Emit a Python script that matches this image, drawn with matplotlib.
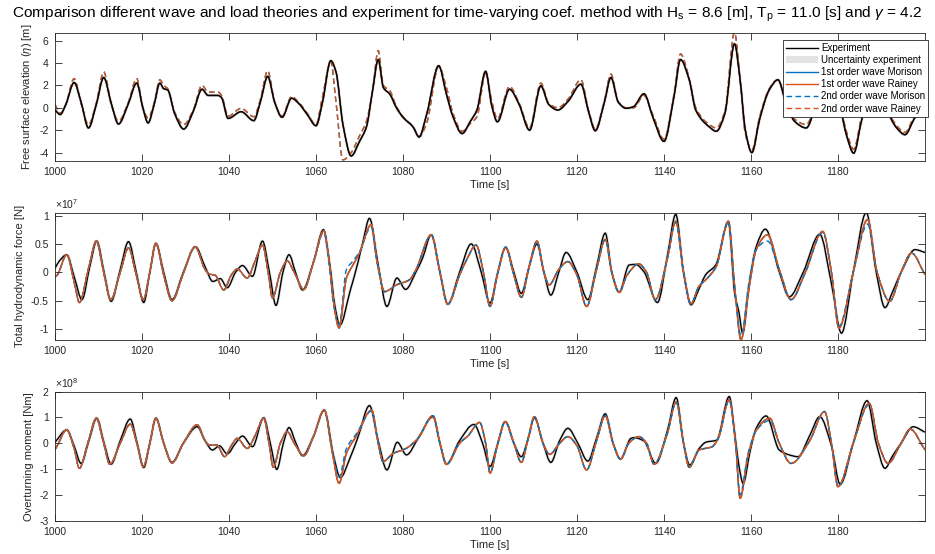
import numpy as np
import matplotlib.pyplot as plt
from matplotlib.patches import Patch, PathPatch
from matplotlib.path import Path
from matplotlib.ticker import FuncFormatter

plt.rcParams["font.family"] = ["Liberation Sans", "DejaVu Sans"]
plt.rcParams["mathtext.fontset"] = "custom"
plt.rcParams["mathtext.rm"] = "Liberation Sans"
plt.rcParams["mathtext.it"] = "Liberation Sans:italic"
plt.rcParams["axes.unicode_minus"] = False

# ---- free surface elevation [m] ----
eta_t = [1000, 1001.2, 1002.5, 1004.4, 1006, 1007.7, 1009.5, 1011.2, 1013, 1014.6,
         1016.8, 1018.8, 1020.2, 1021.4, 1022.8, 1024.1, 1025, 1025.9, 1027.5, 1029.6,
         1031.8, 1033.8, 1035.2, 1037.5, 1038.3, 1039.8, 1042.8, 1045.7, 1047.2, 1048.9,
         1050.5, 1052.2, 1054.4, 1056, 1058, 1060, 1061.5, 1063.4, 1064.6, 1066.2,
         1068.1, 1070, 1071.6, 1073, 1074.3, 1075.5, 1077, 1078.5, 1080, 1082.3,
         1083.7, 1085.5, 1088.2, 1090, 1091.5, 1093.6, 1095.5, 1097, 1099, 1100.4,
         1101.7, 1104.5, 1106.7, 1109.1, 1111.7, 1113.5, 1115.6, 1118, 1120.9, 1122.7,
         1124.2, 1126.3, 1127.8, 1129.5, 1131.3, 1133, 1135.4, 1137.5, 1140, 1142.3,
         1143.8, 1145.8, 1147.3, 1150.4, 1152, 1154, 1156.2, 1157.5, 1158.7, 1160.2,
         1162, 1164.2, 1166.2, 1168, 1170, 1172.7, 1175, 1177.8, 1180.5, 1182,
         1183.6, 1185.5, 1188.5, 1191, 1193.5, 1195.4, 1197.5, 1200]
eta_exp = [-0.2, -0.6, 0.3, 2.25, 0.5, -1.8, 0.3, 2.7, 0.3, -1.45,
           0.3, 2.2, 0.0, -1.35, 0.3, 2.2, 1.7, 1.6, -0.5, -1.9,
           -0.3, 1.65, 1.1, 1.1, 0.9, -0.95, -0.35, -1.15, 0.5, 2.8,
           0.5, -0.85, 0.85, 0.4, -0.6, -1.6, 0.5, 4.2, 3.2, -1.5,
           -4.3, -3.0, -1.7, 1.5, 4.3, 1.8, 1.2, 0.0, -0.85, -1.7,
           -2.6, -0.5, 3.75, 1.2, -0.8, -2.3, -1.2, -0.2, 3.25, 0.2,
           -1.25, 1.65, 0.3, -2.0, 1.95, 0.3, -0.2, 0.6, 2.1, -0.4,
           -2.05, 0.5, 2.7, 0.5, -0.05, 0.1, 1.25, -0.9, -3.0, 1.0,
           4.3, 2.5, -0.2, -1.7, -2.1, -0.5, 5.7, 2.5, -2.0, -4.0,
           -1.0, 1.6, 2.5, 0.5, -1.2, -1.8, 0.3, 2.8, 0.0, -2.5,
           -4.05, -1.0, 2.5, 0.0, -1.8, -2.4, -1.0, 0.45]
eta_1st = eta_exp  # 1st order wave is built from the measured elevation
eta_2nd = [0.3, -0.5, 0.3, 2.6, 0.4, -1.5, 0.4, 3.2, 0.2, -1.2,
           0.4, 2.6, 0.0, -0.9, 0.4, 2.5, 2.0, 1.7, -0.4, -1.5,
           -0.2, 2.0, 1.4, 1.4, 1.1, -0.75, -0.05, -0.8, 0.7, 3.3,
           0.5, -0.75, 1.0, 0.5, -0.5, -1.5, 1.0, 4.1, 0.5, -4.65,
           -4.0, -2.5, -1.2, 1.5, 5.1, 2.0, 1.5, 0.1, -0.8, -1.7,
           -2.6, -1.3, 3.7, 1.8, -0.5, -2.1, -1.4, -0.8, 3.1, 0.6,
           -1.0, 1.9, 0.4, -1.8, 2.2, 0.4, 0.0, 0.8, 2.5, -0.3,
           -1.9, 0.6, 3.0, 0.5, 0.0, 0.0, 1.1, -0.7, -2.8, 1.2,
           4.8, 2.6, 0.0, -1.5, -1.8, -0.3, 6.7, 2.5, -2.3, -3.8,
           -0.8, 1.7, 2.5, 0.5, -1.0, -1.5, 0.5, 3.2, 0.2, -2.2,
           -3.7, -0.7, 2.8, 0.1, -1.6, -2.2, -0.8, 0.6]

# ---- total hydrodynamic force [1e7 N] ----
f_exp_t = [1000, 1001, 1002.7, 1004.5, 1006.2, 1008, 1009.6, 1011.3, 1012.9, 1015,
           1016.9, 1018.7, 1020.4, 1021.8, 1023.2, 1025, 1026.9, 1029.5, 1032.3, 1034.5,
           1036.3, 1038, 1039.6, 1041.5, 1043.1, 1045.4, 1047.7, 1049.3, 1050.8, 1052.4,
           1053.8, 1055.3, 1056.9, 1059.5, 1061.7, 1063.2, 1064.3, 1065.5, 1067.8, 1069.7,
           1070.8, 1072.3, 1074.3, 1076.3, 1078.6, 1080.6, 1083, 1084.5, 1086.5, 1088.5,
           1090.3, 1093, 1095.7, 1098, 1100, 1101.8, 1103.6, 1105.5, 1107.2, 1109,
           1110.8, 1112.4, 1114, 1115.8, 1117.5, 1120, 1122.5, 1124.5, 1126.5, 1128,
           1129.7, 1132, 1133.5, 1135.4, 1138.5, 1140.8, 1142.7, 1144.5, 1146.2, 1148,
           1149.6, 1151.9, 1154.8, 1156.3, 1157.2, 1158.1, 1159.6, 1161.2, 1163.3, 1166.5,
           1168.8, 1172, 1175.8, 1178.5, 1180.8, 1183.5, 1186.5, 1188.8, 1190.8, 1192.5,
           1194.5, 1197.7, 1200]
f_exp = [0.07, 0.2, 0.31, -0.1, -0.48, 0.1, 0.55, 0.0, -0.51, 0.05,
         0.54, 0.0, -0.53, 0.0, 0.51, 0.0, -0.48, 0.0, 0.45, 0.1,
         -0.16, -0.11, -0.27, 0.0, 0.12, -0.07, 0.55, 0.0, -0.58, 0.0,
         0.31, 0.0, -0.31, 0.2, 0.75, 0.13, -0.57, -0.93, -0.34, 0.19,
         0.54, 0.95, 0.13, -0.6, -0.1, -0.3, 0.01, 0.25, 0.66, 0.0,
         -0.56, 0.0, 0.5, 0.0, -0.54, 0.0, 0.44, 0.0, -0.37, 0.1,
         0.5, 0.0, -0.4, 0.0, 0.35, 0.0, -0.48, 0.1, 0.69, 0.0,
         -0.35, 0.13, 0.14, 0.01, -0.53, 0.3, 1.02, 0.0, -0.57, -0.3,
         -0.04, 0.13, 0.88, -0.4, -0.69, -1.07, -0.2, 0.45, 0.76, 0.01,
         -0.43, 0.0, 0.67, -0.2, -1.07, 0.0, 1.05, 0.0, -0.62, -0.35,
         0.0, 0.4, 0.35]
f_mod_t = [1000, 1000.5, 1002.7, 1004.5, 1005.6, 1007.8, 1009.5, 1011.2, 1012.8, 1015,
           1016.9, 1018.7, 1020.3, 1021.8, 1023.2, 1025, 1026.9, 1029.5, 1032.2, 1034.5,
           1035.5, 1036.8, 1038.8, 1040.5, 1041.9, 1044.2, 1046, 1047.7, 1049, 1050,
           1051.8, 1053.4, 1055, 1057.2, 1059.5, 1061.8, 1063, 1064, 1065.3, 1067,
           1068.5, 1070, 1072.7, 1074, 1075.8, 1077, 1078.5, 1081.5, 1083, 1086.5,
           1088.5, 1090.3, 1093, 1094.5, 1096.8, 1098.5, 1100, 1101.8, 1103.6, 1105.5,
           1107.2, 1109, 1110.8, 1112.4, 1113.6, 1115.8, 1117.9, 1120, 1122.2, 1124.5,
           1126.5, 1128, 1129.7, 1131.5, 1134.2, 1136, 1138, 1140.8, 1142.7, 1144.5,
           1146.2, 1148, 1150, 1152, 1154.8, 1156.3, 1157.7, 1159.5, 1161.2, 1163.8,
           1166.5, 1169.2, 1172.5, 1176.5, 1178.5, 1180.2, 1183.5, 1186.8, 1189, 1191.9,
           1194.5, 1196.9, 1200]
f_1st = [-0.08, -0.05, 0.31, -0.2, -0.53, 0.1, 0.55, 0.0, -0.48, 0.0,
         0.43, -0.05, -0.48, 0.0, 0.51, -0.05, -0.5, -0.02, 0.45, 0.05,
         -0.03, -0.05, -0.31, -0.05, 0.06, -0.1, 0.2, 0.48, 0.0, -0.45,
         0.0, 0.2, 0.0, -0.3, 0.2, 0.73, 0.2, -0.5, -0.98, -0.1,
         0.13, 0.34, 0.84, 0.2, -0.34, -0.3, -0.22, -0.13, 0.05, 0.66,
         0.0, -0.56, -0.05, 0.2, 0.48, 0.0, -0.6, 0.0, 0.44, -0.05,
         -0.44, 0.1, 0.55, 0.0, -0.22, 0.05, 0.19, -0.05, -0.6, 0.05,
         0.58, 0.0, -0.35, -0.05, 0.15, 0.0, -0.48, 0.25, 0.9, 0.0,
         -0.55, -0.25, -0.1, 0.1, 0.9, -0.3, -1.19, -0.3, 0.4, 0.66,
         0.05, -0.48, 0.0, 0.72, 0.0, -0.98, 0.0, 0.93, 0.0, -0.51,
         0.0, 0.34, -0.04]
f_2nd = [-0.08, -0.05, 0.31, -0.2, -0.53, 0.1, 0.55, 0.0, -0.48, 0.0,
         0.43, -0.05, -0.48, 0.0, 0.51, -0.05, -0.5, -0.02, 0.45, 0.05,
         -0.03, -0.05, -0.31, -0.05, 0.06, -0.1, 0.2, 0.48, 0.0, -0.45,
         0.0, 0.2, 0.0, -0.3, 0.2, 0.71, 0.15, -0.55, -0.92, 0.05,
         0.2, 0.36, 0.8, 0.2, -0.34, -0.3, -0.22, -0.13, 0.05, 0.66,
         0.0, -0.56, -0.05, 0.2, 0.48, 0.0, -0.6, 0.0, 0.44, -0.05,
         -0.44, 0.1, 0.55, 0.0, -0.22, 0.05, 0.19, -0.05, -0.6, 0.05,
         0.58, 0.0, -0.35, -0.05, 0.15, 0.0, -0.48, 0.25, 0.88, 0.0,
         -0.55, -0.25, -0.1, 0.1, 0.9, -0.3, -1.12, -0.2, 0.4, 0.55,
         0.05, -0.48, 0.0, 0.7, 0.0, -0.95, 0.0, 0.85, 0.0, -0.51,
         0.0, 0.34, -0.04]

# ---- overturning moment [1e8 Nm] ----
m_exp_t = [1000, 1002.7, 1004.4, 1006, 1007.8, 1009.6, 1011.3, 1012.9, 1015, 1017.3,
           1018.9, 1020.4, 1021.8, 1023.2, 1025, 1026.9, 1029.5, 1032.7, 1034.5, 1036.2,
           1037.8, 1039.6, 1041.5, 1043.1, 1045.4, 1048, 1049.5, 1051, 1052.5, 1053.8,
           1055.4, 1056.9, 1059.5, 1061.9, 1064, 1065.6, 1067.8, 1069.7, 1072.3, 1074.3,
           1076.3, 1078.7, 1080.8, 1083.5, 1086.9, 1088.5, 1090, 1093, 1096.3, 1098.3,
           1100, 1101.8, 1103.5, 1105.5, 1107.2, 1108.8, 1110.2, 1112.2, 1114, 1116,
           1117.9, 1120.2, 1122.5, 1124.5, 1126.5, 1128.3, 1130, 1132.4, 1133.1, 1135.4,
           1138.1, 1140.8, 1142.8, 1144.5, 1145.9, 1148.1, 1149.6, 1152.1, 1155, 1156.4,
           1157.2, 1158.2, 1159.8, 1161.2, 1163.5, 1166.5, 1168.8, 1170.8, 1173.5, 1175.8,
           1178.5, 1180.5, 1183.5, 1186.7, 1188.8, 1190.8, 1192.5, 1194.5, 1197.3, 1200]
m_exp = [0.04, 0.52, -0.1, -0.78, 0.1, 0.97, 0.0, -0.81, 0.1, 0.94,
         0.0, -0.94, 0.0, 0.97, 0.0, -0.74, 0.0, 0.64, 0.1, -0.26,
         -0.1, -0.41, 0.0, 0.28, -0.13, 0.99, 0.0, -1.01, 0.0, 0.61,
         0.0, -0.48, 0.3, 1.29, -0.45, -1.33, -0.58, 0.26, 1.46, 0.1,
         -1.03, 0.04, -0.45, 0.2, 1.03, 0.0, -0.81, 0.1, 0.73, 0.0,
         -0.9, 0.0, 0.84, 0.0, -0.52, 0.2, 0.99, 0.0, -0.74, 0.1,
         0.58, 0.0, -0.69, 0.2, 1.14, 0.0, -0.61, 0.19, 0.22, 0.09,
         -0.78, 0.5, 1.77, 0.0, -0.84, -0.2, 0.04, 0.12, 1.81, 0.19,
         -0.84, -1.55, -0.3, 0.58, 1.06, -0.26, -0.45, -0.52, 0.3, 1.03,
         -0.1, -1.59, 0.0, 1.65, 0.0, -0.97, -0.5, 0.0, 0.64, 0.43]
m_mod_t = [1000, 1000.5, 1002.7, 1004.4, 1005.6, 1007.7, 1009.5, 1011.2, 1012.6, 1015,
           1017.3, 1018.9, 1020.3, 1021.8, 1023.2, 1025, 1026.9, 1029.5, 1032.7, 1034.5,
           1035.5, 1037.2, 1039, 1040.5, 1041.9, 1044.2, 1046, 1048, 1049.2, 1050.2,
           1051.8, 1053.4, 1055, 1057.2, 1059.5, 1061.9, 1063.8, 1065.3, 1067, 1069.4,
           1072.8, 1074.3, 1075.4, 1077.7, 1080.7, 1083.5, 1086.9, 1088.5, 1090, 1093,
           1095, 1097.6, 1099, 1100, 1101.8, 1103.5, 1105.5, 1107.2, 1108.8, 1110.2,
           1112.2, 1113.7, 1116, 1117.9, 1120, 1122.2, 1124.5, 1126.5, 1128.3, 1130,
           1131.9, 1134.2, 1136, 1137.7, 1140.8, 1142.8, 1144.5, 1145.8, 1148.1, 1151.1,
           1152.5, 1155, 1156.4, 1157.5, 1159.3, 1161.2, 1164.3, 1166.5, 1169.2, 1173.5,
           1176.9, 1178.5, 1180, 1183.5, 1187.2, 1189.3, 1191.5, 1194.5, 1196.6, 1200]
m_1st = [-0.25, -0.1, 0.52, -0.2, -0.97, 0.1, 0.97, 0.0, -0.81, 0.0,
         0.74, -0.05, -0.9, 0.0, 0.97, 0.0, -0.76, 0.0, 0.72, 0.1,
         -0.07, -0.07, -0.52, -0.1, 0.19, -0.2, 0.3, 0.97, 0.0, -0.93,
         0.0, 0.45, 0.0, -0.48, 0.3, 1.29, -0.4, -1.55, -0.39, 0.32,
         1.29, 0.0, -0.71, -0.4, -0.2, 0.2, 1.07, 0.0, -0.81, 0.0,
         0.3, 0.81, 0.0, -1.15, 0.0, 0.84, 0.0, -0.74, 0.2, 1.03,
         0.0, -0.43, 0.0, 0.26, -0.1, -1.03, 0.1, 1.07, 0.0, -0.61,
         0.0, 0.26, 0.0, -0.81, 0.4, 1.6, 0.0, -0.93, -0.26, -0.13,
         0.2, 1.68, 0.1, -2.13, -0.5, 0.5, 0.97, 0.0, -0.78, 0.1,
         1.23, 0.0, -1.68, 0.0, 1.55, 0.0, -0.78, 0.0, 0.55, -0.26]
m_2nd = [-0.25, -0.1, 0.52, -0.2, -0.97, 0.1, 0.97, 0.0, -0.81, 0.0,
         0.74, -0.05, -0.9, 0.0, 0.97, 0.0, -0.76, 0.0, 0.72, 0.1,
         -0.07, -0.07, -0.52, -0.1, 0.19, -0.2, 0.3, 0.97, 0.0, -0.93,
         0.0, 0.45, 0.0, -0.48, 0.3, 1.27, -0.3, -1.3, -0.2, 0.4,
         1.25, 0.0, -0.71, -0.4, -0.2, 0.2, 1.07, 0.0, -0.81, 0.0,
         0.3, 0.81, 0.0, -1.15, 0.0, 0.84, 0.0, -0.74, 0.2, 1.03,
         0.0, -0.43, 0.0, 0.26, -0.1, -1.03, 0.1, 1.07, 0.0, -0.61,
         0.0, 0.26, 0.0, -0.81, 0.4, 1.6, 0.0, -0.93, -0.26, -0.13,
         0.2, 1.68, 0.1, -2.0, -0.4, 0.5, 0.88, 0.0, -0.78, 0.1,
         1.23, 0.0, -1.68, 0.0, 1.5, 0.0, -0.78, 0.0, 0.55, -0.26]

BLUE = "#0072BD"
ORANGE = "#D95319"
GREY = "#e3e3e3"
DARK = "#262626"
DASH = (0, (4, 2.5))
LW = 1.0


def curve(ax, t, y, scale=1.0, **kw):
    # draw the read points as a smooth (monotone cubic bezier) line
    t = np.asarray(t, float)
    y = np.asarray(y, float) * scale
    h = np.diff(t)
    d = np.diff(y) / h
    m = np.zeros_like(y)
    m[0], m[-1] = d[0], d[-1]
    for i in range(1, len(y) - 1):
        if d[i - 1] * d[i] > 0:
            w1, w2 = 2 * h[i] + h[i - 1], h[i] + 2 * h[i - 1]
            m[i] = (w1 + w2) / (w1 / d[i - 1] + w2 / d[i])
    verts = [(t[0], y[0])]
    for i in range(len(t) - 1):
        verts += [(t[i] + h[i] / 3, y[i] + m[i] * h[i] / 3),
                  (t[i + 1] - h[i] / 3, y[i + 1] - m[i + 1] * h[i] / 3),
                  (t[i + 1], y[i + 1])]
    codes = [Path.MOVETO] + [Path.CURVE4] * (len(verts) - 1)
    ax.add_patch(PathPatch(Path(verts, codes), fill=False, capstyle="butt", **kw))


def style(ax):
    ax.set_xlim(1000, 1200)
    ax.set_xticks(np.arange(1000, 1181, 20))
    ax.tick_params(direction="in", length=5, width=0.6, top=True, right=True,
                   labelsize=7.5, colors=DARK, pad=4.5)
    for s in ax.spines.values():
        s.set_color(DARK)
        s.set_linewidth(0.6)
    ax.set_xlabel("Time [s]", fontsize=8, color=DARK, labelpad=2)


fig = plt.figure(figsize=(9.35, 5.54), dpi=100)
ax1 = fig.add_axes([0.0588, 0.7094, 0.9305, 0.2316])
ax2 = fig.add_axes([0.0588, 0.3863, 0.9305, 0.2298])
ax3 = fig.add_axes([0.0588, 0.0601, 0.9305, 0.2329])

# top: free surface elevation
curve(ax1, eta_t, eta_exp, edgecolor=GREY, lw=2.2)
curve(ax1, eta_t, eta_1st, edgecolor=BLUE, lw=LW)
curve(ax1, eta_t, eta_1st, edgecolor=ORANGE, lw=LW)
curve(ax1, eta_t, eta_2nd, edgecolor=BLUE, lw=LW, ls=DASH)
curve(ax1, eta_t, eta_2nd, edgecolor=ORANGE, lw=LW, ls=DASH)
curve(ax1, eta_t, eta_exp, edgecolor="black", lw=LW, zorder=5)
ax1.set_ylim(-4.75, 6.7)
ax1.set_yticks([-4, -2, 0, 2, 4, 6])
ax1.set_ylabel(r"Free surface elevation ($\eta$) [m]", fontsize=8, color=DARK)
style(ax1)

handles = [
    plt.Line2D([], [], color="black", lw=LW),
    Patch(facecolor=GREY, edgecolor="none"),
    plt.Line2D([], [], color=BLUE, lw=LW),
    plt.Line2D([], [], color=ORANGE, lw=LW),
    plt.Line2D([], [], color=BLUE, lw=LW, ls=DASH),
    plt.Line2D([], [], color=ORANGE, lw=LW, ls=DASH),
]
labels = ["Experiment", "Uncertainty experiment", "1st order wave Morison",
          "1st order wave Rainey", "2nd order wave Morison", "2nd order wave Rainey"]
leg = ax1.legend(handles, labels, loc="upper right", fontsize=7,
                 bbox_to_anchor=(928 / 935, 1 - 40 / 554), bbox_transform=fig.transFigure,
                 borderaxespad=0, fancybox=False, framealpha=1, handlelength=3.3,
                 handletextpad=0.3, labelspacing=0.22, borderpad=0.3)
leg.get_frame().set_edgecolor(DARK)
leg.get_frame().set_linewidth(0.6)
leg.set_zorder(10)

# middle: force, bottom: moment
for ax, te, ve, tm, v1, v2, scale, ylim, yt, ylab in [
    (ax2, f_exp_t, f_exp, f_mod_t, f_1st, f_2nd, 1e7, (-1.19, 1.05),
     [-1, -0.5, 0, 0.5, 1], "Total hydrodynamic force [N]"),
    (ax3, m_exp_t, m_exp, m_mod_t, m_1st, m_2nd, 1e8, (-3, 2),
     [-3, -2, -1, 0, 1, 2], "Overturning moment [Nm]"),
]:
    curve(ax, te, ve, scale, edgecolor=GREY, lw=2.2)
    curve(ax, te, ve, scale, edgecolor="black", lw=LW)
    curve(ax, tm, v1, scale, edgecolor=BLUE, lw=LW)
    curve(ax, tm, v1, scale, edgecolor=ORANGE, lw=LW)
    curve(ax, tm, v2, scale, edgecolor=BLUE, lw=LW, ls=DASH)
    curve(ax, tm, v1, scale, edgecolor=ORANGE, lw=LW, ls=DASH)
    ax.set_ylim(ylim[0] * scale, ylim[1] * scale)
    ax.set_yticks(np.array(yt) * scale)
    ax.yaxis.set_major_formatter(FuncFormatter(lambda v, p, s=scale: f"{v / s:g}"))
    ax.set_ylabel(ylab, fontsize=8, color=DARK)
    ax.text(0.0, 1.01, r"$\times10^{%d}$" % int(np.log10(scale)), transform=ax.transAxes,
            fontsize=7.5, color=DARK, ha="left", va="bottom")
    style(ax)

fig.text(0.5, 0.975, "Comparison different wave and load theories and experiment for "
         "time-varying coef. method with H$_\\mathrm{s}$ = 8.6 [m], T$_\\mathrm{p}$ = 11.0 [s] "
         "and $\\gamma$ = 4.2", ha="center", va="center", fontsize=11.1)

fig.savefig("out.png", dpi=100)
